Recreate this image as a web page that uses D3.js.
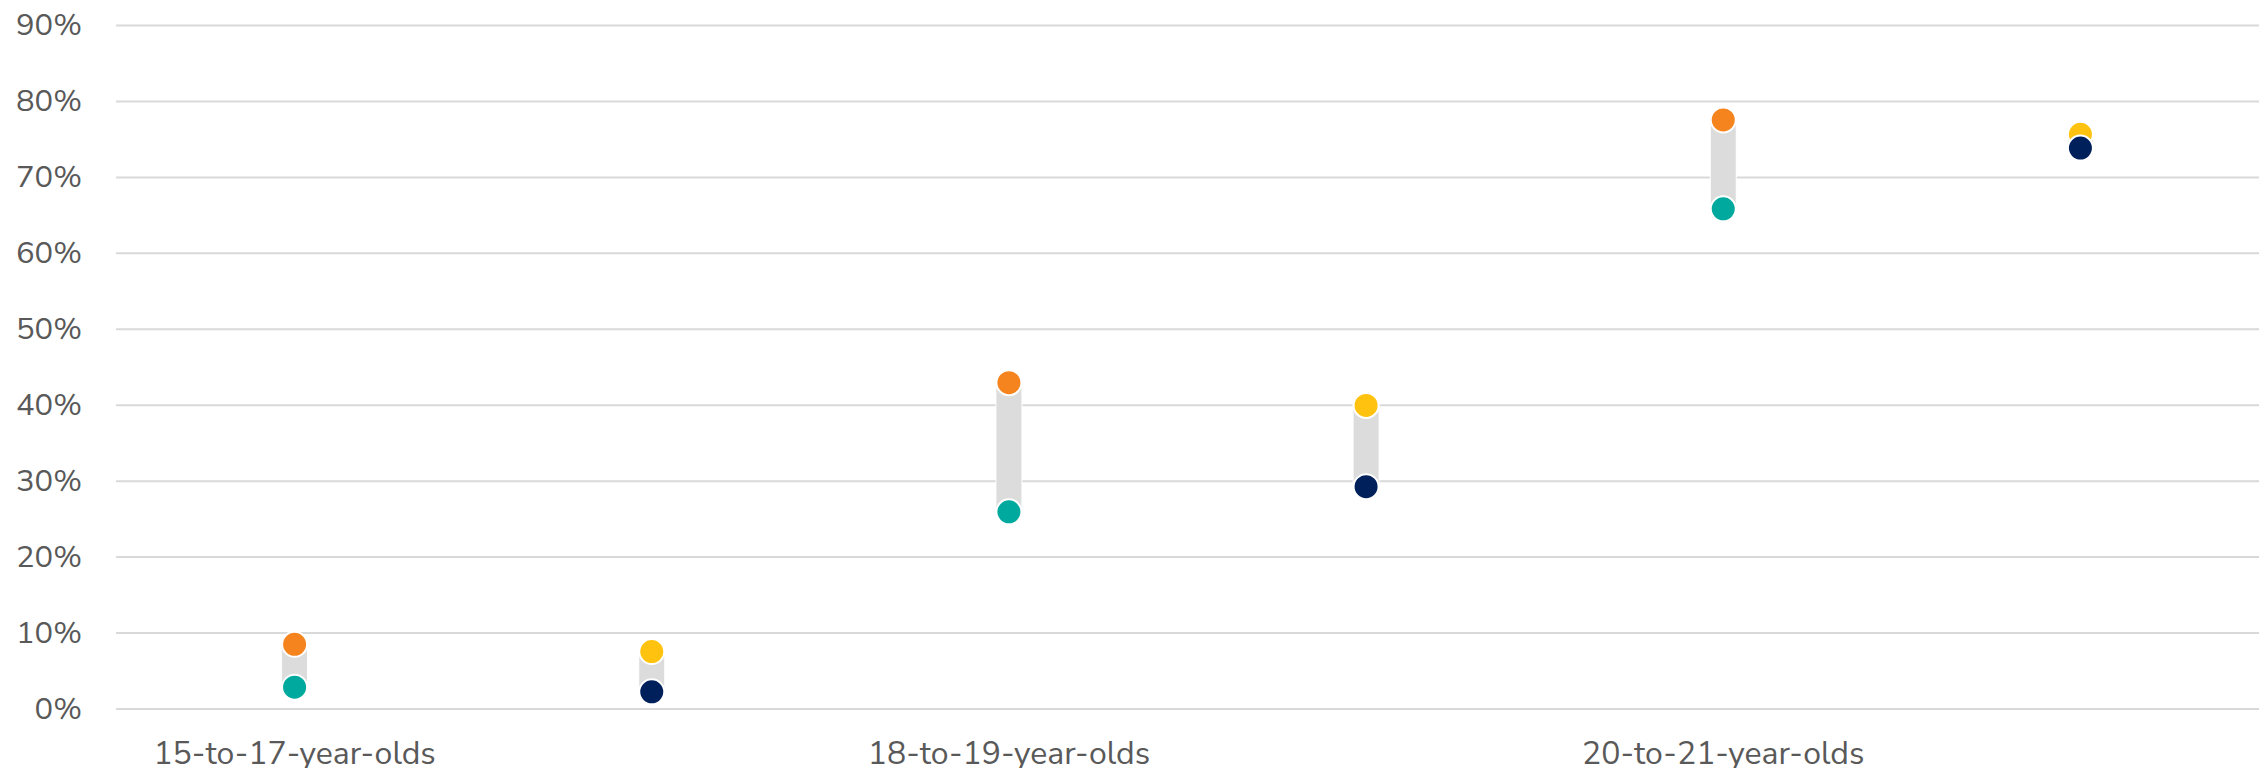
<!DOCTYPE html>
<html><head><meta charset="utf-8">
<script src="https://cdn.jsdelivr.net/npm/d3@7"></script>
<style>
html,body{margin:0;padding:0;background:#fff;}
svg text{font-family:"Nunito Sans","Lato","Open Sans",sans-serif;}
</style></head>
<body><svg id="chart" width="2262" height="768"></svg>
<script>
const categories = ["15-to-17-year-olds","18-to-19-year-olds","20-to-21-year-olds"];
const groupA_high = [8.45, 42.9, 77.5];   // orange
const groupA_low  = [2.8, 25.9, 65.8];    // teal
const groupB_high = [7.5, 39.9, 75.6];    // yellow
const groupB_low  = [2.2, 29.2, 73.8];    // navy
const yTicks = [0,10,20,30,40,50,60,70,80,90];

(function(){
const svg = d3.select("#chart");
const mLeft = 116, mRight = 2259, mTop = 25, mBottom = 708.5;

const x = d3.scaleBand().domain(categories).range([mLeft, mRight]);
const sub = d3.scaleBand().domain(["A","B"]).range([0, x.bandwidth()]);
const y = d3.scaleLinear().domain([0,90]).range([mBottom, mTop]);

const yAxis = d3.axisLeft(y).tickValues(yTicks).tickFormat(d => d + "%").tickSize(-(mRight-mLeft)).tickPadding(34);
const gy = svg.append("g").attr("transform", `translate(${mLeft},0)`).call(yAxis);
gy.select(".domain").remove();
gy.selectAll(".tick line").attr("stroke","#d9d9d9").attr("stroke-width",2);
gy.selectAll(".tick text").attr("fill","#595959").attr("font-size",31);

const xAxis = d3.axisBottom(x).tickSize(0).tickPadding(0);
const gx = svg.append("g").attr("transform", `translate(0,${mBottom})`).call(xAxis);
gx.select(".domain").remove();
gx.selectAll(".tick").attr("transform", d => `translate(${x(d) + sub("A") + sub.bandwidth()/2},0)`);
gx.selectAll(".tick text").attr("fill","#595959").attr("font-size",32).attr("dy",null).attr("y",55);

const series = [
  {key:"A", high:groupA_high, low:groupA_low, hc:"#F5841F", lc:"#00A99D"},
  {key:"B", high:groupB_high, low:groupB_low, hc:"#FFC20E", lc:"#00205B"}
];
const barW = 26, r = 12.5;
series.forEach(s => {
  categories.forEach((c,i) => {
    const cx = x(c) + sub(s.key) + sub.bandwidth()/2;
    const yh = y(s.high[i]), yl = y(s.low[i]);
    svg.append("rect").attr("x", cx - barW/2).attr("y", yh).attr("width", barW).attr("height", Math.max(0, yl-yh))
      .attr("fill","#dcdcdc").attr("stroke","#fff").attr("stroke-width",1);
    svg.append("circle").attr("cx",cx).attr("cy",yh).attr("r",r).attr("fill",s.hc).attr("stroke","#fff").attr("stroke-width",2);
    svg.append("circle").attr("cx",cx).attr("cy",yl).attr("r",r).attr("fill",s.lc).attr("stroke","#fff").attr("stroke-width",2);
  });
});
})();
</script></body></html>
